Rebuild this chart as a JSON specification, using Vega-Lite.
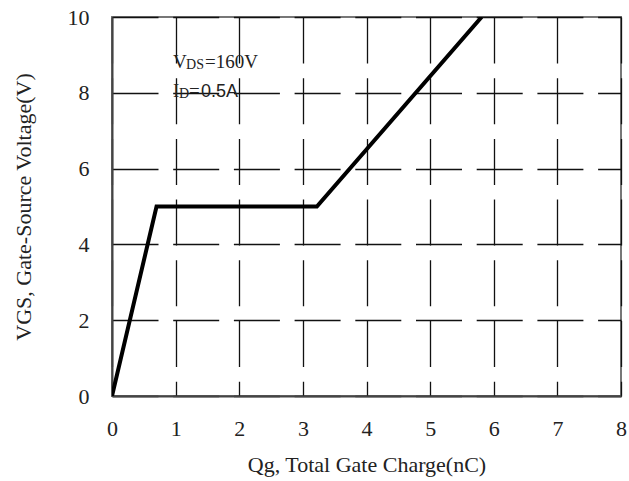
{
  "$schema": "https://vega.github.io/schema/vega-lite/v6.json",
  "autosize": {"type": "none"},
  "width": 509,
  "height": 379,
  "padding": {"left": 112, "top": 17, "right": 8, "bottom": 85},
  "background": "white",
  "config": {
    "view": {"stroke": "#777", "strokeWidth": 2},
    "axis": {
      "labelFont": "Liberation Serif",
      "titleFont": "Liberation Serif",
      "labelFontSize": 22,
      "titleFontSize": 22,
      "labelColor": "#222",
      "titleColor": "#222",
      "titleFontWeight": "normal",
      "labelFlush": false,
      "ticks": false,
      "domainColor": "#444",
      "domainWidth": 2,
      "gridColor": "#111",
      "gridWidth": 1.3,
      "gridOpacity": 1,
      "gridDash": [46, 14.7],
      "gridDashOffset": 0
    }
  },
  "layer": [
    {
      "data": {"values": [
        {"q": 0, "v": 0},
        {"q": 0.7, "v": 5},
        {"q": 3.22, "v": 5},
        {"q": 5.81, "v": 10}
      ]},
      "mark": {"type": "line", "color": "#000", "strokeWidth": 4, "clip": true},
      "encoding": {
        "x": {"field": "q", "type": "quantitative",
              "scale": {"domain": [0, 8], "nice": false},
              "axis": {"values": [0,1,2,3,4,5,6,7,8], "format": "d", "labelPadding": 22, "title": "Qg, Total Gate Charge(nC)", "titlePadding": 15}},
        "y": {"field": "v", "type": "quantitative",
              "scale": {"domain": [0, 10], "nice": false},
              "axis": {"values": [0,2,4,6,8,10], "format": "d", "labelPadding": 23, "title": "VGS, Gate-Source Voltage(V)", "titlePadding": 32}}
      }
    },
    {
      "data": {"values": [{"q": 0.96, "v": 8.65}]},
      "layer": [
        {"mark": {"type": "text", "text": "V", "align": "left", "baseline": "alphabetic", "font": "Liberation Serif", "fontSize": 19, "color": "#222"},
         "encoding": {"x": {"field": "q", "type": "quantitative"}, "y": {"field": "v", "type": "quantitative"}}},
        {"mark": {"type": "text", "text": "DS", "align": "left", "baseline": "alphabetic", "dx": 13, "dy": 1, "font": "Liberation Serif", "fontSize": 14, "color": "#222"},
         "encoding": {"x": {"field": "q", "type": "quantitative"}, "y": {"field": "v", "type": "quantitative"}}},
        {"mark": {"type": "text", "text": "=160V", "align": "left", "baseline": "alphabetic", "dx": 32, "font": "Liberation Serif", "fontSize": 19, "color": "#222"},
         "encoding": {"x": {"field": "q", "type": "quantitative"}, "y": {"field": "v", "type": "quantitative"}}}
      ]
    },
    {
      "data": {"values": [{"q": 0.96, "v": 7.88}]},
      "layer": [
        {"mark": {"type": "text", "text": "I", "align": "left", "baseline": "alphabetic", "font": "Liberation Serif", "fontSize": 19, "color": "#222"},
         "encoding": {"x": {"field": "q", "type": "quantitative"}, "y": {"field": "v", "type": "quantitative"}}},
        {"mark": {"type": "text", "text": "D", "align": "left", "baseline": "alphabetic", "dx": 6, "dy": 1, "font": "Liberation Serif", "fontSize": 14, "color": "#222"},
         "encoding": {"x": {"field": "q", "type": "quantitative"}, "y": {"field": "v", "type": "quantitative"}}},
        {"mark": {"type": "text", "text": "=", "align": "left", "baseline": "alphabetic", "dx": 16, "font": "Liberation Serif", "fontSize": 19, "color": "#222"},
         "encoding": {"x": {"field": "q", "type": "quantitative"}, "y": {"field": "v", "type": "quantitative"}}},
        {"mark": {"type": "text", "text": "0.5A", "align": "left", "baseline": "alphabetic", "dx": 28, "font": "Liberation Sans", "fontSize": 18, "color": "#222"},
         "encoding": {"x": {"field": "q", "type": "quantitative"}, "y": {"field": "v", "type": "quantitative"}}}
      ]
    }
  ]
}
